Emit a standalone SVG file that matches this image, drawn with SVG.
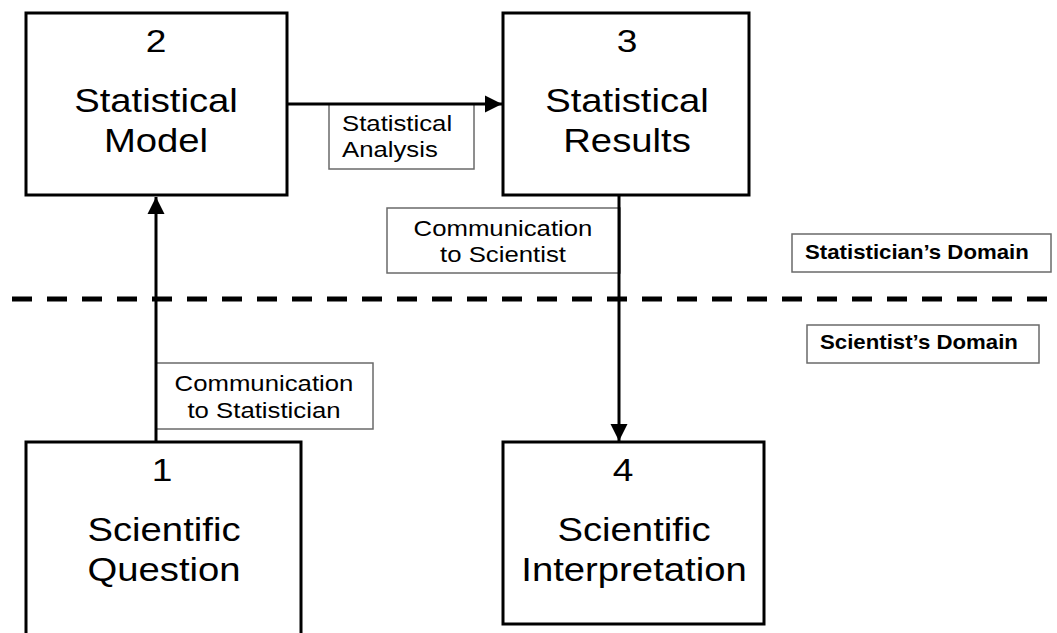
<svg xmlns="http://www.w3.org/2000/svg" width="1057" height="633" viewBox="0 0 1057 633">
<style>
.box{fill:#fff;stroke:#000;stroke-width:3}
.lbl{fill:#fff;stroke:#6a6a6a;stroke-width:1.5}
.big{font-family:"Liberation Sans",Arial,sans-serif;font-size:33px;fill:#000;text-anchor:middle}
.num{font-family:"Liberation Sans",Arial,sans-serif;font-size:32px;fill:#000;text-anchor:middle}
.sm{font-family:"Liberation Sans",Arial,sans-serif;font-size:22px;fill:#000}
.dom{font-family:"Liberation Sans",Arial,sans-serif;font-size:19.5px;font-weight:bold;fill:#000}
.conn{stroke:#000;stroke-width:3;fill:none}
</style>
<defs>
<marker id="ah" markerUnits="userSpaceOnUse" markerWidth="18" markerHeight="18" refX="17" refY="8.5" orient="auto" viewBox="0 0 18 17">
<path d="M0,0 L17,8.5 L0,17 Z" fill="#000"/>
</marker>
</defs>
<rect width="1057" height="633" fill="#fff"/>

<g id="node2">
<rect class="box" x="26" y="13" width="261" height="182"/>
<text class="num" transform="translate(156,52) scale(1.16,1)">2</text>
<text class="big" transform="translate(156,112) scale(1.16,1)">Statistical</text>
<text class="big" transform="translate(156,152) scale(1.16,1)">Model</text>
</g>

<g id="node3">
<rect class="box" x="503" y="13" width="246" height="182"/>
<text class="num" transform="translate(627,52) scale(1.16,1)">3</text>
<text class="big" transform="translate(627,112) scale(1.16,1)">Statistical</text>
<text class="big" transform="translate(627,152) scale(1.16,1)">Results</text>
</g>

<g id="node1">
<rect class="box" x="26" y="442" width="275" height="210"/>
<text class="num" transform="translate(162,481) scale(1.16,1)">1</text>
<text class="big" transform="translate(164,541) scale(1.16,1)">Scientific</text>
<text class="big" transform="translate(164,581) scale(1.16,1)">Question</text>
</g>

<g id="node4">
<rect class="box" x="503" y="442" width="261" height="182"/>
<text class="num" transform="translate(623,481) scale(1.16,1)">4</text>
<text class="big" transform="translate(634,541) scale(1.16,1)">Scientific</text>
<text class="big" transform="translate(634,581) scale(1.16,1)">Interpretation</text>
</g>

<g id="label-analysis">
<rect class="lbl" x="329" y="104" width="145" height="65"/>
<text class="sm" transform="translate(342,131) scale(1.17,1)">Statistical</text>
<text class="sm" transform="translate(342,157) scale(1.17,1)">Analysis</text>
</g>

<g id="label-to-scientist">
<rect class="lbl" x="387" y="208" width="233" height="65"/>
<text class="sm" text-anchor="middle" transform="translate(503,236) scale(1.17,1)">Communication</text>
<text class="sm" text-anchor="middle" transform="translate(503,262) scale(1.17,1)">to Scientist</text>
</g>

<g id="label-to-statistician">
<rect class="lbl" x="156" y="363" width="217" height="66"/>
<text class="sm" text-anchor="middle" transform="translate(264,391) scale(1.17,1)">Communication</text>
<text class="sm" text-anchor="middle" transform="translate(264,418) scale(1.17,1)">to Statistician</text>
</g>

<g id="domain-statistician">
<rect class="lbl" x="792" y="234" width="259" height="38"/>
<text class="dom" transform="translate(805,259) scale(1.14,1)">Statistician’s Domain</text>
</g>

<g id="domain-scientist">
<rect class="lbl" x="807" y="325" width="232" height="38"/>
<text class="dom" transform="translate(820,349) scale(1.14,1)">Scientist’s Domain</text>
</g>

<g id="divider">
<line x1="12" y1="299" x2="1048" y2="299" stroke="#000" stroke-width="5" stroke-dasharray="20 15"/>
</g>

<g id="connectors">
<line class="conn" x1="288" y1="104" x2="502" y2="104" marker-end="url(#ah)"/>
<line class="conn" x1="156" y1="442" x2="156" y2="197" marker-end="url(#ah)"/>
<line class="conn" x1="619" y1="196" x2="619" y2="441" marker-end="url(#ah)"/>
</g>
</svg>
